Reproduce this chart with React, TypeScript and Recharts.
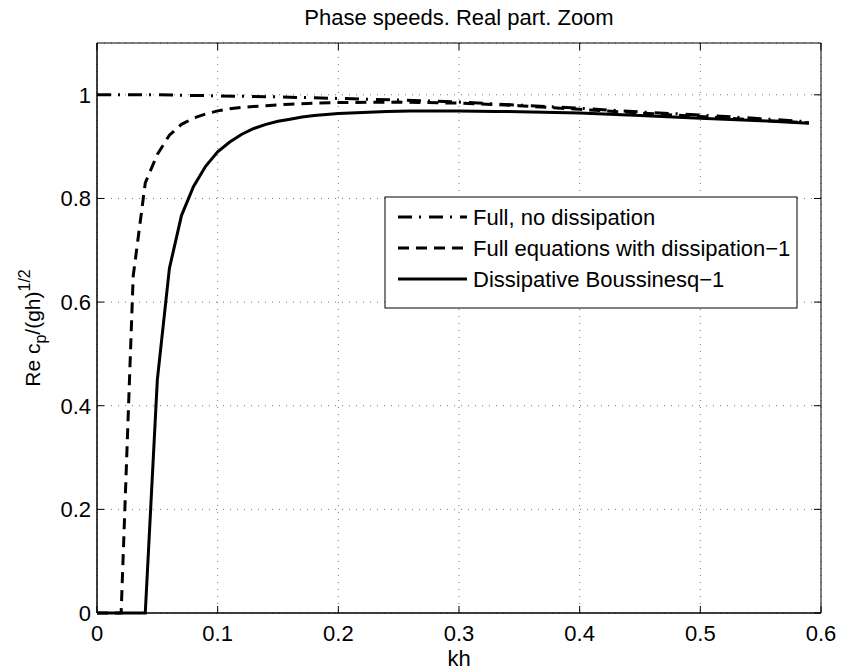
import React from 'react';
import { LineChart, Line, XAxis, YAxis, CartesianGrid, ReferenceArea } from 'recharts';

// kh values and Re c_p/(gh)^(1/2)
const fullKh = [0, 0.05, 0.1, 0.15, 0.2, 0.25, 0.3, 0.35, 0.4, 0.45, 0.5, 0.55, 0.59];
const fullRe = [1.0, 1.0, 0.998, 0.996, 0.993, 0.99, 0.986, 0.98, 0.974, 0.967, 0.961, 0.954, 0.948];

const dissKh = [0, 0.01, 0.02, 0.03, 0.04, 0.05, 0.06, 0.07, 0.08, 0.09, 0.1, 0.11, 0.12, 0.14, 0.16, 0.18, 0.2, 0.25, 0.3, 0.35, 0.4, 0.45, 0.5, 0.55, 0.59];
const dissRe = [0, 0, 0, 0.65, 0.83, 0.885, 0.922, 0.943, 0.955, 0.963, 0.969, 0.973, 0.976, 0.979, 0.982, 0.984, 0.985, 0.986, 0.984, 0.979, 0.972, 0.965, 0.958, 0.951, 0.946];

const boussKh = [0, 0.01, 0.02, 0.03, 0.04, 0.05, 0.06, 0.07, 0.08, 0.09, 0.1, 0.11, 0.12, 0.13, 0.14, 0.15, 0.16, 0.17, 0.18, 0.19, 0.2, 0.22, 0.24, 0.26, 0.28, 0.3, 0.33, 0.36, 0.4, 0.45, 0.5, 0.55, 0.59];
const boussRe = [0, 0, 0, 0, 0, 0.45, 0.665, 0.767, 0.823, 0.862, 0.89, 0.909, 0.924, 0.935, 0.943, 0.949, 0.953, 0.957, 0.96, 0.962, 0.964, 0.966, 0.968, 0.969, 0.969, 0.969, 0.968, 0.967, 0.965, 0.96, 0.955, 0.95, 0.945];

const xTicks = [0, 0.1, 0.2, 0.3, 0.4, 0.5, 0.6];
const yTicks = [0, 0.2, 0.4, 0.6, 0.8, 1];

const legendLabels = ['Full, no dissipation', 'Full equations with dissipation\u22121', 'Dissipative Boussinesq\u22121'];
const dashes = ['14 7 2 8', '11 7', undefined];

const toPoints = (xs: number[], ys: number[]) => xs.map((x, i) => ({ x, y: ys[i] }));
const series = [toPoints(fullKh, fullRe), toPoints(dissKh, dissRe), toPoints(boussKh, boussRe)];

const W = 841;
const H = 672;
const M = { top: 43, right: 20, left: 37, bottom: 9 };
const Y_AXIS_W = 60;
const X_AXIS_H = 50;
const PLOT_W = W - M.left - Y_AXIS_W - M.right;
const PLOT_H = H - M.top - M.bottom - X_AXIS_H;
const TICK = 7;
const FS = 22;
const FONT = '"Liberation Sans", Arial, Helvetica, sans-serif';

const XTick = (props: any) => {
  const { x, y, payload } = props;
  return (
    <g>
      <line x1={x} y1={y} x2={x} y2={y - TICK} stroke="#000" />
      <line x1={x} y1={y - PLOT_H} x2={x} y2={y - PLOT_H + TICK} stroke="#000" />
      <text x={x} y={y + 27.5} textAnchor="middle" fontSize={FS} fontFamily={FONT} fill="#000">
        {String(payload.value)}
      </text>
    </g>
  );
};

const YTick = (props: any) => {
  const { x, y, payload } = props;
  return (
    <g>
      <line x1={x} y1={y} x2={x + TICK} y2={y} stroke="#000" />
      <line x1={x + PLOT_W} y1={y} x2={x + PLOT_W - TICK} y2={y} stroke="#000" />
      <text x={x - 6} y={y + 8} textAnchor="end" fontSize={FS} fontFamily={FONT} fill="#000">
        {String(payload.value)}
      </text>
    </g>
  );
};

const XLabel = (props: any) => {
  const { x, y, width } = props.viewBox;
  return (
    <text x={x + width / 2} y={y + 53} textAnchor="middle" fontSize={FS} fontFamily={FONT} fill="#000">
      kh
    </text>
  );
};

const YLabel = (props: any) => {
  const { x, y, height } = props.viewBox;
  const cx = x + 3;
  const cy = y + height / 2;
  return (
    <text
      x={cx}
      y={cy}
      transform={`rotate(-90 ${cx} ${cy})`}
      textAnchor="middle"
      fontSize={21}
      fontFamily={FONT}
      fill="#000"
    >
      <tspan>Re c</tspan>
      <tspan fontSize={16} dy={6}>p</tspan>
      <tspan dy={-6}>/(gh)</tspan>
      <tspan fontSize={16} dy={-10}>1/2</tspan>
    </text>
  );
};

const LegendBox = () => (
  <svg width={414} height={113} style={{ position: 'absolute', left: 384, top: 196 }}>
    <rect x={1} y={1} width={412} height={111} fill="#fff" stroke="#000" strokeWidth={1} />
    {legendLabels.map((label, i) => (
      <g key={label}>
        <line
          x1={14}
          x2={83}
          y1={21 + i * 31}
          y2={21 + i * 31}
          stroke="#000"
          strokeWidth={3}
          strokeDasharray={dashes[i]}
        />
        <text x={89} y={29 + i * 31} fontSize={FS} fontFamily={FONT} fill="#000">
          {label}
        </text>
      </g>
    ))}
  </svg>
);

export default function App() {
  return (
    <div style={{ position: 'absolute', left: 0, top: 0, width: W, height: H, background: '#fff' }}>
      <div
        style={{
          position: 'absolute',
          left: M.left + Y_AXIS_W,
          width: PLOT_W,
          top: 5,
          textAlign: 'center',
          fontFamily: FONT,
          fontSize: FS,
          lineHeight: '25px',
        }}
      >
        Phase speeds. Real part. Zoom
      </div>
      <LineChart width={W} height={H} margin={M}>
        <CartesianGrid stroke="#777" strokeDasharray="1 6" />
        <XAxis
          dataKey="x"
          type="number"
          domain={[0, 0.6]}
          ticks={xTicks}
          height={X_AXIS_H}
          tickSize={0}
          tickMargin={0}
          tickLine={false}
          tick={<XTick />}
          axisLine={{ stroke: '#000' }}
          label={<XLabel />}
        />
        <YAxis
          type="number"
          domain={[0, 1.1]}
          ticks={yTicks}
          width={Y_AXIS_W}
          tickSize={0}
          tickMargin={0}
          tickLine={false}
          tick={<YTick />}
          axisLine={{ stroke: '#000' }}
          label={<YLabel />}
        />
        <ReferenceArea x1={0} x2={0.6} y1={0} y2={1.1} fill="none" stroke="#000" strokeWidth={1} />
        {series.map((pts, i) => (
          <Line
            key={legendLabels[i]}
            data={pts}
            dataKey="y"
            type="linear"
            stroke="#000"
            strokeWidth={3}
            strokeDasharray={dashes[i]}
            dot={false}
            activeDot={false}
            isAnimationActive={false}
          />
        ))}
      </LineChart>
      <LegendBox />
    </div>
  );
}
